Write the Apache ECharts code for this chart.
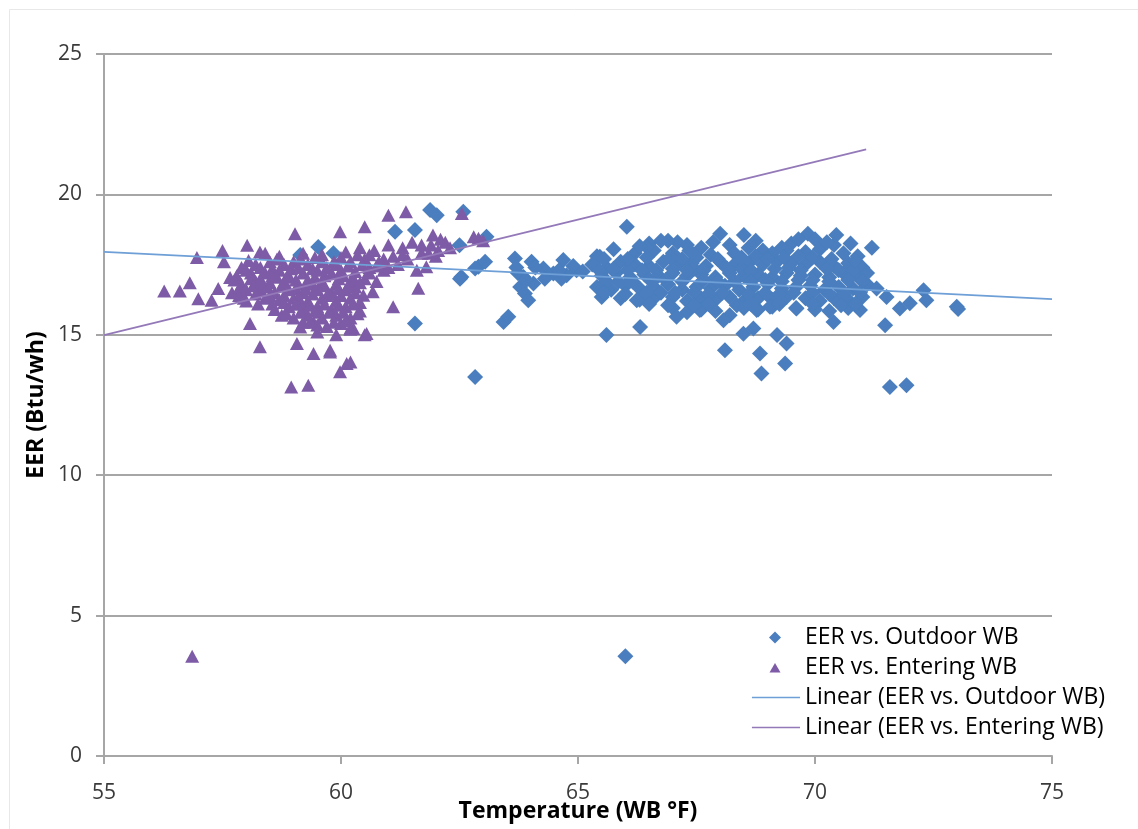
<!DOCTYPE html>
<html>
<head>
<meta charset="utf-8">
<script src="https://cdn.jsdelivr.net/npm/echarts@6/dist/echarts.min.js"></script>
<style>
html,body{margin:0;padding:0;background:#fff;overflow:hidden;}
#chart{width:1138px;height:829px;}
</style>
</head>
<body>
<div id="chart"></div>
<script>
// EER vs. Outdoor WB (blue diamonds)
var outX = [
 59.14,59.52,59.84,61.14,61.56,61.88,62.02,62.58,62.5,63.07,62.9,63.04,62.54,62.83,62.51,61.56,63.43,63.53,62.83,66.0,
 63.67,64.02,63.85,63.78,63.88,63.95,64.06,63.73,64.27,64.48,64.69,64.76,64.97,64.65,63.7,63.9,64.1,64.3,64.6,64.9,65.1,
 66.03,68.0,68.5,69.85,70.45,67.1,66.5,67.6,68.2,69.5,70.4,71.2,66.9,68.9,70.0,
 65.4,65.75,66.2,66.6,67.0,67.35,67.8,68.3,68.6,69.1,69.4,69.8,70.1,70.6,70.9,
 65.3,65.6,65.9,66.2,66.5,66.8,67.1,67.4,67.7,68.0,68.3,68.6,68.9,69.2,69.5,69.8,70.1,70.4,70.7,71.0,
 65.5,65.8,66.1,66.4,66.7,67.0,67.3,67.6,67.9,68.2,68.5,68.8,69.1,69.4,69.7,70.0,70.3,70.6,70.9,
 65.4,65.7,66.0,66.3,66.6,66.9,67.2,67.5,67.8,68.1,68.4,68.7,69.0,69.3,69.6,69.9,70.2,70.5,70.8,71.1,
 65.5,65.9,66.3,66.6,67.0,67.3,67.6,67.9,68.2,68.5,68.8,69.1,69.4,69.8,70.1,70.4,70.7,71.0,
 67.0,67.3,67.6,67.9,68.2,68.5,68.8,69.1,69.6,70.0,70.3,70.7,
 66.35,66.85,67.45,67.95,68.45,68.95,69.45,69.95,70.5,67.2,68.75,69.65,66.0,67.75,69.25,70.6,
 65.6,66.31,67.08,67.57,68.07,68.1,68.49,68.7,68.84,68.87,69.2,69.4,69.37,68.77,69.05,69.61,70.39,70.95,71.48,71.58,71.93,
 71.3,71.51,71.79,72.0,72.29,72.35,72.99,73.02,65.46,65.6,65.85,66.24,66.45,66.1,
 66.3,67.3,67.85,68.75,69.3,69.65,70.25,70.75,66.75,
 65.45,65.75,66.05,66.65,67.0,67.3,67.65,68.15,68.65,69.15,69.7,70.25,70.8,71.1,
 65.6,66.15,66.55,67.2,67.65,68.3,68.65,69.3,69.65,70.3,70.7,71.0,
 65.55,66.45,66.75,67.05,67.45,68.05,68.6,68.95,69.55,69.95,70.3,70.95,
 66.5,66.9,67.45,67.75,68.35,68.65,69.25,69.95,70.55,70.85,
 65.55,66.05,66.45,66.95,67.5,67.95,68.45,69.0,69.35,69.95,70.35,70.85
];
var outY = [
 17.84,18.13,17.9,18.67,18.73,19.44,19.26,19.38,18.19,18.49,17.42,17.6,17.06,17.36,17.0,15.4,15.46,15.64,13.5,3.55,
 17.72,17.6,17.06,16.7,16.47,16.23,16.83,17.2,17.36,17.18,17.66,17.12,17.3,17.0,17.4,16.95,17.4,17.0,17.3,17.45,17.25,
 18.85,18.6,18.55,18.6,18.55,18.3,18.25,18.1,18.2,18.25,18.2,18.1,18.35,18.0,18.4,
 17.8,18.05,17.9,18.0,17.9,18.0,17.85,17.9,18.1,17.9,18.0,17.95,18.05,17.9,17.8,
 17.5,17.4,17.6,17.5,17.45,17.6,17.5,17.55,17.45,17.6,17.5,17.55,17.5,17.6,17.55,17.5,17.6,17.45,17.55,17.4,
 17.1,17.2,17.05,17.15,17.1,17.2,17.1,17.15,17.05,17.2,17.1,17.15,17.05,17.2,17.1,17.15,17.05,17.2,17.1,
 16.7,16.6,16.75,16.65,16.7,16.8,16.6,16.7,16.65,16.75,16.6,16.7,16.8,16.65,16.7,16.75,16.6,16.7,16.65,16.8,
 16.35,16.3,16.25,16.3,16.35,16.2,16.3,16.25,16.35,16.2,16.3,16.25,16.35,16.3,16.2,16.3,16.25,16.35,
 15.95,15.8,15.9,15.85,15.7,15.95,15.9,16.0,15.95,15.9,15.85,15.95,
 17.3,16.95,17.35,16.9,17.35,16.95,17.4,16.95,17.3,17.7,17.8,17.8,16.45,16.45,16.45,16.45,
 14.99,15.28,15.64,15.88,15.52,14.45,15.04,15.22,14.33,13.62,14.99,14.69,13.98,15.88,16.0,15.94,15.46,15.88,15.34,13.14,13.2,
 16.65,16.35,15.94,16.12,16.59,16.23,16.0,15.92,17.78,16.59,16.89,16.23,18.13,17.48,
 18.15,18.2,18.3,18.35,18.1,18.4,18.3,18.25,18.35,
 17.3,17.35,17.3,17.3,17.35,17.3,17.3,17.35,17.3,17.35,17.3,17.35,17.3,17.2,
 16.9,16.9,16.9,16.9,16.95,16.9,16.9,16.9,16.95,16.9,16.95,16.9,
 16.5,16.5,16.5,16.5,16.5,16.5,16.45,16.5,16.5,16.5,16.45,16.5,
 16.1,16.05,16.05,16.1,16.05,16.1,16.1,16.1,16.05,16.1,
 17.7,17.7,17.75,17.75,17.75,17.7,17.75,17.7,17.75,17.75,17.7,17.65
];

// EER vs. Entering WB (purple triangles)
var entX = [
 56.86,56.27,56.6,56.81,56.96,56.99,57.27,57.41,57.5,57.53,57.66,58.02,58.08,58.29,58.29,59.03,59.07,58.95,59.31,59.42,
 59.77,59.98,59.98,60.12,60.5,61.0,61.37,61.94,61.7,61.85,62.05,62.2,62.55,62.8,62.9,63.0,61.6,61.63,61.1,61.8,
 60.67,60.47,60.2,60.5,59.77,60.2,58.75,59.14,59.42,60.26,60.54,
 58.4,58.7,59.2,59.6,60.1,60.4,60.7,61.0,61.3,61.5,61.9,62.1,62.3,
 57.9,58.2,58.5,58.8,59.0,59.3,59.6,59.9,60.2,60.5,60.8,61.1,61.4,61.7,62.0,
 57.8,58.1,58.4,58.7,58.9,59.2,59.5,59.8,60.0,60.3,60.6,60.9,61.2,
 57.9,58.2,58.5,58.8,59.1,59.3,59.6,59.9,60.2,60.5,
 57.7,58.0,58.3,58.6,58.9,59.2,59.5,59.8,60.1,60.3,
 58.0,58.4,58.7,59.0,59.3,59.6,59.9,60.2,60.4,
 58.6,58.9,59.2,59.5,59.8,60.1,60.4,
 59.0,59.3,59.6,59.9,60.2,60.0,59.7,
 59.5,59.9,60.2,
 58.35,58.65,58.95,59.25,59.45,59.75,60.05,59.15,59.55,58.55,60.3,59.85,58.1,57.95,60.6,60.9,61.3,61.0,60.75,59.35,
 58.05,58.65,59.15,59.45,60.0,60.35,60.6,
 58.0,58.3,58.55,59.1,59.4,59.7,60.15,60.45,60.75,
 57.75,58.3,58.55,58.85,59.05,59.65,59.95,60.25,60.4,
 57.85,58.15,58.45,58.75,59.05,59.4,59.65,59.95,60.15,
 57.85,58.2,58.5,58.8,59.1,59.4,59.7,60.0,
 58.25,58.8,59.05,59.35,59.65,59.95,60.25,
 58.85,59.15,59.45,59.75,60.05,60.35,
 59.2,59.5,59.85,60.1
];
var entY = [
 3.55,16.56,16.56,16.85,17.75,16.28,16.23,16.65,18.0,17.6,17.04,18.19,15.4,14.57,17.95,18.6,14.69,13.14,13.2,14.33,
 14.39,13.68,18.67,13.98,18.85,19.26,19.38,18.55,18.2,17.9,18.0,18.3,19.32,18.49,18.44,18.35,17.3,16.66,16.0,17.42,
 16.53,16.41,15.24,15.0,14.45,14.03,15.7,15.28,15.46,15.22,15.05,
 17.9,17.8,17.9,17.85,17.95,18.1,18.0,18.2,18.1,18.3,18.2,18.4,18.1,
 17.4,17.5,17.6,17.5,17.6,17.5,17.6,17.5,17.6,17.7,17.6,17.8,17.7,17.9,17.8,
 17.1,17.2,17.2,17.3,17.1,17.2,17.3,17.2,17.3,17.25,17.4,17.3,17.5,
 16.8,16.9,16.85,16.9,16.8,16.95,16.9,16.8,16.9,17.0,
 16.5,16.6,16.6,16.5,16.6,16.5,16.6,16.5,16.6,16.7,
 16.2,16.3,16.25,16.3,16.2,16.3,16.2,16.3,16.15,
 15.9,16.0,15.95,16.0,15.9,16.0,15.85,
 15.6,15.7,15.6,15.7,15.6,15.4,15.3,
 15.1,15.0,15.2,
 16.75,17.05,17.35,16.65,17.05,16.45,17.1,16.1,15.8,16.1,16.5,17.6,17.0,16.3,17.2,17.7,17.85,17.4,16.9,15.45,
 17.65,17.7,17.7,17.75,17.75,17.85,17.85,
 17.3,17.4,17.35,17.4,17.35,17.4,17.45,17.5,17.45,
 16.95,17.0,17.1,17.05,16.95,17.1,17.0,17.05,16.85,
 16.65,16.75,16.7,16.75,16.65,16.8,16.75,16.65,16.75,
 16.4,16.45,16.4,16.4,16.35,16.45,16.4,16.4,
 16.1,16.15,16.1,16.05,16.1,16.05,16.1,
 15.75,15.8,15.85,15.8,15.8,15.75,
 15.45,15.35,15.45,15.5
];

// Linear trendlines (end points as drawn)
var outTrendX = [55, 75];
var outTrendY = [17.95, 16.27];
var entTrendX = [55, 71.08];
var entTrendY = [14.99, 21.6];

var xTicks = [55, 60, 65, 70, 75];
var yTicks = [0, 5, 10, 15, 20, 25];

var seriesNames = ['EER vs. Outdoor WB', 'EER vs. Entering WB', 'Linear (EER vs. Outdoor WB)', 'Linear (EER vs. Entering WB)'];

function zip(a, b) { var r = []; for (var i = 0; i < a.length; i++) r.push([a[i], b[i]]); return r; }

var FONT = '"Open Sans", "Liberation Sans", sans-serif';
var gridGray = '#A6A6A6';
var blue = '#4A7EBE', purple = '#7E5BA6', blueLine = '#6E9FD6', purpleLine = '#9479B9';

var chart = echarts.init(document.getElementById('chart'), null, {renderer: 'canvas'});
chart.setOption({
  animation: false,
  backgroundColor: '#fff',
  graphic: [{
    type: 'rect', left: 7, top: 7, shape: {width: 1300, height: 1000},
    style: {fill: 'none', stroke: '#E8E8E8', lineWidth: 1}, silent: true, z: -10
  }],
  grid: {left: 104, right: 86, top: 54, bottom: 73, containLabel: false, outerBoundsMode: 'none'},
  xAxis: {
    type: 'value', min: xTicks[0], max: xTicks[xTicks.length - 1], interval: 5,
    name: 'Temperature (WB °F)', nameLocation: 'middle', nameGap: 44, nameMoveOverlap: false,
    nameTextStyle: {fontFamily: FONT, fontSize: 23, fontWeight: 'bold', color: '#000'},
    axisLine: {show: true, onZero: false, lineStyle: {color: gridGray, width: 2}},
    axisTick: {show: true, length: 8, lineStyle: {color: gridGray, width: 2}},
    axisLabel: {fontFamily: FONT, fontSize: 21, color: '#3a3a3a', margin: 27},
    splitLine: {show: false}
  },
  yAxis: {
    type: 'value', min: yTicks[0], max: yTicks[yTicks.length - 1], interval: 5,
    name: 'EER (Btu/wh)', nameLocation: 'middle', nameGap: 56, nameMoveOverlap: false,
    nameTextStyle: {fontFamily: FONT, fontSize: 23, fontWeight: 'bold', color: '#000'},
    axisLine: {show: true, lineStyle: {color: gridGray, width: 2}},
    axisTick: {show: true, length: 8, lineStyle: {color: gridGray, width: 2}},
    axisLabel: {fontFamily: FONT, fontSize: 21, color: '#3a3a3a', margin: 22},
    splitLine: {show: true, lineStyle: {color: gridGray, width: 2}}
  },
  legend: {
    orient: 'vertical', left: 745, top: 621,
    itemWidth: 50, itemHeight: 12, itemGap: 7,
    textStyle: {fontFamily: FONT, fontSize: 23, color: '#000'},
    data: [
      {name: seriesNames[0], icon: 'path://M0,0M50,12M25,0L31,6L25,12L19,6Z', itemStyle: {color: blue}},
      {name: seriesNames[1], icon: 'path://M0,0M50,12M25,1.5L30.5,11L19.5,11Z', itemStyle: {color: purple}},
      {name: seriesNames[2], icon: 'path://M0,0M50,12M2,5.1L52,5.1L52,6.9L2,6.9Z', itemStyle: {color: blueLine}},
      {name: seriesNames[3], icon: 'path://M0,0M50,12M2,5.1L52,5.1L52,6.9L2,6.9Z', itemStyle: {color: purpleLine}}
    ]
  },
  series: [
    {
      name: seriesNames[0], type: 'scatter', symbol: 'diamond', symbolSize: 16,
      itemStyle: {color: blue, opacity: 1}, z: 2,
      data: zip(outX, outY)
    },
    {
      name: seriesNames[1], type: 'scatter', symbol: 'triangle', symbolSize: [14, 13],
      itemStyle: {color: purple, opacity: 1}, z: 2,
      data: zip(entX, entY)
    },
    {
      name: seriesNames[2], type: 'line', symbol: 'none', showSymbol: false, z: 4,
      itemStyle: {color: blueLine}, lineStyle: {color: blueLine, width: 1.8},
      data: zip(outTrendX, outTrendY)
    },
    {
      name: seriesNames[3], type: 'line', symbol: 'none', showSymbol: false, z: 4,
      itemStyle: {color: purpleLine}, lineStyle: {color: purpleLine, width: 1.8},
      data: zip(entTrendX, entTrendY)
    }
  ]
});
</script>
</body>
</html>
